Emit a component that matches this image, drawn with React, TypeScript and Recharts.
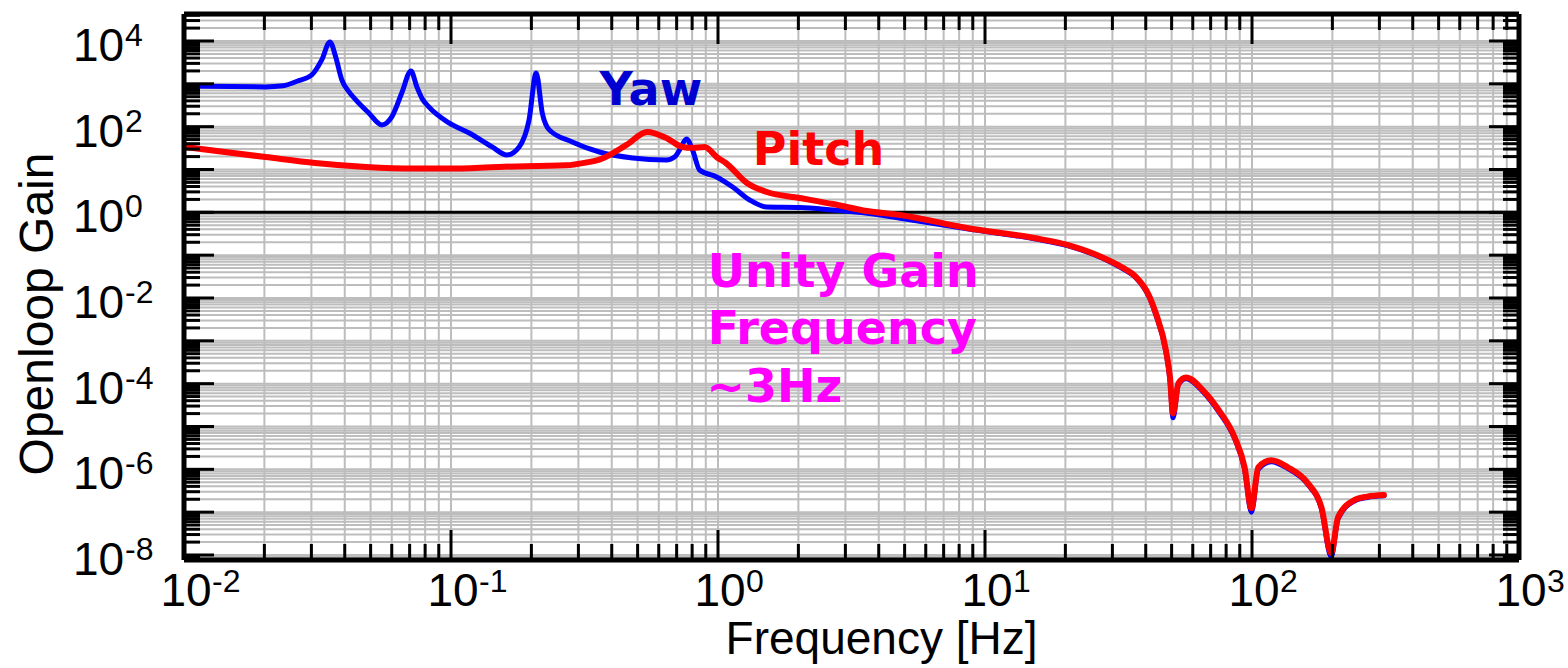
import React from 'react';
import { LineChart, Line, XAxis, YAxis, CartesianGrid, ReferenceLine, ReferenceDot } from 'recharts';

// ---------- data ----------
const yawFreq = [
  0.01, 0.015, 0.0202, 0.0235, 0.0265, 0.0301, 0.0328, 0.0352, 0.037, 0.039, 0.0415, 0.044, 0.0492, 0.0551,
  0.06, 0.0654, 0.0708, 0.0745, 0.078, 0.0826, 0.0983, 0.117, 0.1426, 0.162, 0.18, 0.196, 0.2085,
  0.2197, 0.2334, 0.2844, 0.3596, 0.4786, 0.641, 0.69, 0.718, 0.762, 0.803, 0.853, 0.988, 1.135,
  1.314, 1.523, 2.026, 2.697, 3.616, 4.81, 8.57, 15.3, 20.5, 27.3, 33, 36.5, 41.4, 43.6, 47.6,
  49.3, 50.6, 53, 56.6, 65.4, 75.1, 86.1, 93.8, 99.5, 105.6, 118, 136, 162, 182, 198, 210,
  241, 270, 312,
];
const yawGain = [
  893, 860, 847, 900, 1150, 1614, 3614, 9500, 4250, 1233, 650, 421, 209, 110,
  169, 613, 2000, 847, 450, 289, 122, 71, 33.6, 21.8, 33.6, 143, 1800,
  209, 84, 44, 25.6, 18.6, 16.7, 20, 28.6, 51.6, 28.6, 9.7, 6.7, 3.9,
  1.94, 1.33, 1.3, 1.13, 0.95, 0.73, 0.41, 0.24, 0.165, 0.087, 0.047, 0.031, 0.0098, 0.0041, 5.5e-4,
  1.2e-4, 1.6e-5, 9.5e-5, 1.3e-4, 6.6e-5, 2.2e-5, 5.2e-6, 1.0e-6, 1.0e-7, 1.0e-6, 1.5e-6, 1.05e-6, 4.4e-7, 1.2e-7, 9e-9, 7e-8,
  1.8e-7, 2.2e-7, 2.4e-7,
];

const pitchFreq = [
  0.01, 0.0202, 0.031, 0.048, 0.074, 0.098, 0.151, 0.27, 0.32, 0.3596, 0.454, 0.543,
  0.641, 0.736, 0.8, 0.893, 0.988, 1.07, 1.284, 1.523, 2.026, 2.697, 3.616, 4.81,
  8.57, 15.3, 20.5, 27.3, 33, 36.5, 41.4, 43.6, 47.6, 49.3, 50.6, 53, 56.6, 65.4,
  75.1, 86.1, 93.8, 99.5, 105.6, 118, 136, 162, 182, 198, 210, 241, 270, 312,
];
const pitchGain = [
  33.6, 19.5, 14.1, 11.4, 10.5, 10.5, 11.5, 12.5, 14.5, 17, 37.4, 75,
  54.5, 33.6, 32, 33.6, 19.6, 14.2, 4.84, 2.98, 2.16, 1.56, 1.07, 0.865,
  0.43, 0.251, 0.172, 0.091, 0.05, 0.0325, 0.0105, 0.00445, 6.0e-4, 1.4e-4, 2.0e-5, 1.02e-4, 1.4e-4, 7.1e-5,
  2.4e-5, 5.6e-6, 1.12e-6, 1.23e-7, 1.12e-6, 1.62e-6, 1.12e-6, 4.7e-7, 1.3e-7, 1.1e-8, 7.6e-8, 1.9e-7, 2.3e-7, 2.5e-7,
];

// tick values
const xMajorExp = [-2, -1, 0, 1, 2, 3];
const yMajorExp = [-8, -7, -6, -5, -4, -3, -2, -1, 0, 1, 2, 3, 4];
const yLabelExp = [-8, -6, -4, -2, 0, 2, 4];
const minorMult = [2, 3, 4, 5, 6, 7, 8, 9];

const xDomain: [number, number] = [0.01, 1000];
const yDomain: [number, number] = [Math.pow(10, -8.117), Math.pow(10, 4.63)];

const xTicks: number[] = [];
xMajorExp.forEach((e) => {
  xTicks.push(Math.pow(10, e));
  if (e < 3) minorMult.forEach((m) => xTicks.push(m * Math.pow(10, e)));
});
const yTicks: number[] = [];
[-9, ...yMajorExp].forEach((e) => {
  if (e >= -8) yTicks.push(Math.pow(10, e));
  minorMult.forEach((m) => {
    const v = m * Math.pow(10, e);
    if (v >= yDomain[0] && v <= yDomain[1]) yTicks.push(v);
  });
});

const yawData = yawFreq.map((f, i) => ({ f, g: yawGain[i] }));
const pitchData = pitchFreq.map((f, i) => ({ f, g: pitchGain[i] }));

// ---------- styling ----------
const TICK_FONT = '"Liberation Sans", Arial, Helvetica, sans-serif';
const ANNO_FONT = '"DejaVu Sans", Verdana, sans-serif';
const MAJOR_LEN = 30;
const MINOR_LEN = 16;
const TICK_W = 3;

const expOf = (v: number) => Math.log10(v);
const isMajor = (v: number) => Math.abs(expOf(v) - Math.round(expOf(v))) < 1e-6;

const BottomTick = (props: any) => {
  const { x, y, payload } = props;
  const v = payload.value;
  const major = isMajor(v);
  const e = Math.round(expOf(v));
  const showLabel = major && xMajorExp.includes(e);
  return (
    <g>
      <line x1={x} y1={y} x2={x} y2={y - (major ? MAJOR_LEN : MINOR_LEN)} stroke="#000" strokeWidth={TICK_W} />
      {showLabel && (
        <g fontFamily={TICK_FONT} fill="#000">
          <text x={x + 2} y={y + 46} fontSize={46} textAnchor="middle">10</text>
          <text x={x + 28} y={y + 32} fontSize={32} textAnchor="start">{String(e)}</text>
        </g>
      )}
    </g>
  );
};

const TopTick = (props: any) => {
  const { x, y, payload } = props;
  const major = isMajor(payload.value);
  return <line x1={x} y1={y} x2={x} y2={y + (major ? MAJOR_LEN : MINOR_LEN)} stroke="#000" strokeWidth={TICK_W} />;
};

const LeftTick = (props: any) => {
  const { x, y, payload } = props;
  const v = payload.value;
  const major = isMajor(v);
  const e = Math.round(expOf(v));
  const showLabel = major && yLabelExp.includes(e);
  return (
    <g>
      <line x1={x} y1={y} x2={x + (major ? MAJOR_LEN : MINOR_LEN)} y2={y} stroke="#000" strokeWidth={TICK_W} />
      {showLabel && (
        <g fontFamily={TICK_FONT} fill="#000">
          <text x={x - 111} y={y + 20} fontSize={46} textAnchor="start">10</text>
          <text x={x - 59} y={y + 5} fontSize={32} textAnchor="start">{String(e)}</text>
        </g>
      )}
    </g>
  );
};

const RightTick = (props: any) => {
  const { x, y, payload } = props;
  const major = isMajor(payload.value);
  return <line x1={x} y1={y} x2={x - (major ? MAJOR_LEN : MINOR_LEN)} y2={y} stroke="#000" strokeWidth={TICK_W} />;
};

const YTitle = (props: any) => {
  const vb = props.viewBox || { x: 0, y: 14, width: 184, height: 546 };
  const cx = vb.x + 53;
  const cy = vb.y + vb.height / 2 + 27;
  return (
    <text x={cx} y={cy} transform={`rotate(-90, ${cx}, ${cy})`} textAnchor="middle"
      fontFamily={TICK_FONT} fontSize={48} fill="#000">Openloop Gain</text>
  );
};

const XTitle = (props: any) => {
  const vb = props.viewBox || { x: 184, y: 560, width: 1335, height: 108 };
  return (
    <text x={vb.x + vb.width / 2 + 30} y={vb.y + 94} textAnchor="middle"
      fontFamily={TICK_FONT} fontSize={46} fill="#000">Frequency [Hz]</text>
  );
};

const anno = (text: string, color: string) => (props: any) => {
  const vb = props.viewBox;
  if (!vb) return null;
  return (
    <text x={vb.x + (vb.width || 0) / 2} y={vb.y + (vb.height || 0) / 2} fontFamily={ANNO_FONT}
      fontWeight="bold" fontSize={46} fill={color} textAnchor="start">{text}</text>
  );
};

export default function App() {
  return (
    <div style={{ position: 'absolute', left: 0, top: 0, width: 1568, height: 668, background: '#fff' }}>
      <LineChart width={1568} height={668} margin={{ top: 0, right: 39, bottom: 0, left: 0 }}>
        <CartesianGrid stroke="#bdbdbd" strokeWidth={2} />
        <XAxis dataKey="f" type="number" scale="log" domain={xDomain} allowDataOverflow ticks={xTicks}
          interval={0} tickSize={0} tickMargin={0} tickLine={false} height={108}
          axisLine={{ stroke: '#000', strokeWidth: 5 }} tick={<BottomTick />} label={<XTitle />} />
        <XAxis xAxisId="top" orientation="top" dataKey="f" type="number" scale="log" domain={xDomain}
          allowDataOverflow ticks={xTicks} interval={0} tickSize={0} tickMargin={0} tickLine={false}
          height={14} axisLine={{ stroke: '#000', strokeWidth: 5 }} tick={<TopTick />} />
        <YAxis dataKey="g" type="number" scale="log" domain={yDomain} allowDataOverflow ticks={yTicks}
          interval={0} tickSize={0} tickMargin={0} tickLine={false} width={184}
          axisLine={{ stroke: '#000', strokeWidth: 5 }} tick={<LeftTick />} label={<YTitle />} />
        <YAxis yAxisId="right" orientation="right" type="number" scale="log" domain={yDomain}
          allowDataOverflow ticks={yTicks} interval={0} tickSize={0} tickMargin={0} tickLine={false}
          width={10} axisLine={{ stroke: '#000', strokeWidth: 5 }} tick={<RightTick />} />
        <ReferenceLine y={1} stroke="#000" strokeWidth={3} />
        <Line data={yawData} dataKey="g" type="monotone" stroke="#0000ff" strokeWidth={5} dot={false}
          isAnimationActive={false} strokeLinejoin="round" strokeLinecap="round" />
        <Line data={pitchData} dataKey="g" type="monotone" stroke="#ff0000" strokeWidth={6} dot={false}
          isAnimationActive={false} strokeLinejoin="round" strokeLinecap="round" />
        <ReferenceDot x={0.36} y={321} r={1} fill="none" stroke="none" label={anno('Yaw', '#0000d0')} />
        <ReferenceDot x={1.35} y={12.7} r={1} fill="none" stroke="none" label={anno('Pitch', '#ff0000')} />
        <ReferenceDot x={0.915} y={0.018} r={1} fill="none" stroke="none" label={anno('Unity Gain', '#ff00ff')} />
        <ReferenceDot x={0.915} y={8.4e-4} r={1} fill="none" stroke="none" label={anno('Frequency', '#ff00ff')} />
        <ReferenceDot x={0.905} y={3.7e-5} r={1} fill="none" stroke="none" label={anno('~3Hz', '#ff00ff')} />
      </LineChart>
    </div>
  );
}
